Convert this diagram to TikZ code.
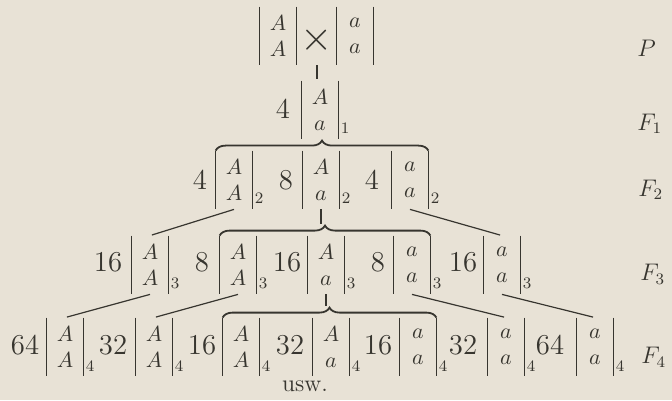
\documentclass[tikz,border=0pt]{standalone}
\usepackage{tikz}
\usepackage{xcolor}
\usetikzlibrary{calc,decorations.pathreplacing}
\definecolor{Ink}{HTML}{37352F}
\definecolor{Paper}{HTML}{E8E2D6}

\tikzset{
  geno/.style={inner sep=0pt, minimum width=18pt, minimum height=29pt, align=center,
    font=\fontsize{11}{13}\selectfont,
    append after command={(\tikzlastnode.north west) edge[bar] (\tikzlastnode.south west)
      (\tikzlastnode.north east) edge[bar] (\tikzlastnode.south east)}},
  bar/.style={draw=Ink, line width=.5pt},
  num/.style={font=\Large, inner sep=0pt},
  sub/.style={font=\footnotesize, anchor=south west, inner sep=1pt, yshift=1.5pt},
  gen/.style={font=\large, anchor=west, inner sep=0pt},
  link/.style={draw=Ink, line width=.6pt, shorten >=1pt},
  brc/.style={draw=Ink, line width=.9pt, decorate, decoration={brace, amplitude=5pt}},
}

\newcommand{\gtbox}[6]{%
  \node[geno] (#1) at (#2,#3) {$#4$\\$#5$};
  \node[sub] (#1s) at (#1.south east) {#6};
}

\begin{document}
\begin{tikzpicture}[x=.5pt, y=-.5pt, text=Ink]
  \fill[Paper] (0,0) rectangle (672,400);
  \useasboundingbox (0,0) rectangle (672,400);

  % P
  \node[geno] (pA) at (278,36) {$A$\\$A$};
  \node[font=\huge, inner sep=0pt] (cross) at (317,40) {$\times$};
  \node[geno] (pa) at (355,36) {$a$\\$a$};

  % F1
  \node[num] (n1) at (283,109) {4};
  \gtbox{fa}{320}{110}{A}{a}{1}

  % F2
  \node[num] (n2a) at (200,180) {4};
  \gtbox{f2a}{234}{180}{A}{A}{2}
  \node[num] (n2b) at (286,180) {8};
  \gtbox{f2b}{321}{180}{A}{a}{2}
  \node[num] (n2c) at (372,180) {4};
  \gtbox{f2c}{410}{180}{a}{a}{2}

  % F3
  \node[num] (n3a) at (108,262) {16};
  \gtbox{f3a}{150}{265}{A}{A}{3}
  \node[num] (n3b) at (202,262) {8};
  \gtbox{f3b}{238}{265}{A}{A}{3}
  \node[num] (n3c) at (287,262) {16};
  \gtbox{f3c}{326}{265}{A}{a}{3}
  \node[num] (n3d) at (378,262) {8};
  \gtbox{f3d}{412}{265}{a}{a}{3}
  \node[num] (n3e) at (463,262) {16};
  \gtbox{f3e}{502}{265}{a}{a}{3}

  % F4
  \node[num] (n4a) at (25,345) {64};
  \gtbox{f4a}{65}{347}{A}{A}{4}
  \node[num] (n4b) at (113,345) {32};
  \gtbox{f4b}{154}{347}{A}{A}{4}
  \node[num] (n4c) at (202,345) {16};
  \gtbox{f4c}{241}{347}{A}{A}{4}
  \node[num] (n4d) at (290,345) {32};
  \gtbox{f4d}{331}{347}{A}{a}{4}
  \node[num] (n4e) at (378,345) {16};
  \gtbox{f4e}{418}{347}{a}{a}{4}
  \node[num] (n4f) at (463,345) {32};
  \gtbox{f4f}{506}{347}{a}{a}{4}
  \node[num] (n4g) at (550,345) {64};
  \gtbox{f4g}{595}{347}{a}{a}{4}

  \node[font=\large] (usw) at (305,386) {usw.};

  % generations
  \node[gen] (gP) at (637,48) {$P$};
  \node[gen] (g1) at (637,124) {$F_1$};
  \node[gen] (g2) at (638,190) {$F_2$};
  \node[gen] (g3) at (640,274) {$F_3$};
  \node[gen] (g4) at (641,357) {$F_4$};

  % braces
  \draw[brc] (f2a.north west) -- (f2c.north east);
  \draw[brc] (f3b.north west) -- (f3d.north east);
  \draw[brc] (f4c.north west) -- (f4e.north east);
  \coordinate (t3) at ($(f3b.north west)!.5!(f3d.north east)+(0,-10)$);
  \coordinate (t4) at ($(f4c.north west)!.5!(f4e.north east)+(0,-10)$);

  % links
  \draw[link] (cross |- pA.south) -- (cross |- fa.north);
  \draw[link] (f2b.south) -- (f2b.south |- t3);
  \draw[link] (f3c.south) -- (f3c.south |- t4);
  \draw[link] (f2a.south) -- (f3a.north);
  \draw[link] (f2c.south) -- (f3e.north);
  \draw[link] (f3a.south) -- (f4a.north);
  \draw[link] (f3b.south) -- (f4b.north);
  \draw[link] (f3d.south) -- (f4f.north);
  \draw[link] (f3e.south) -- (f4g.north);
\end{tikzpicture}
\end{document}
